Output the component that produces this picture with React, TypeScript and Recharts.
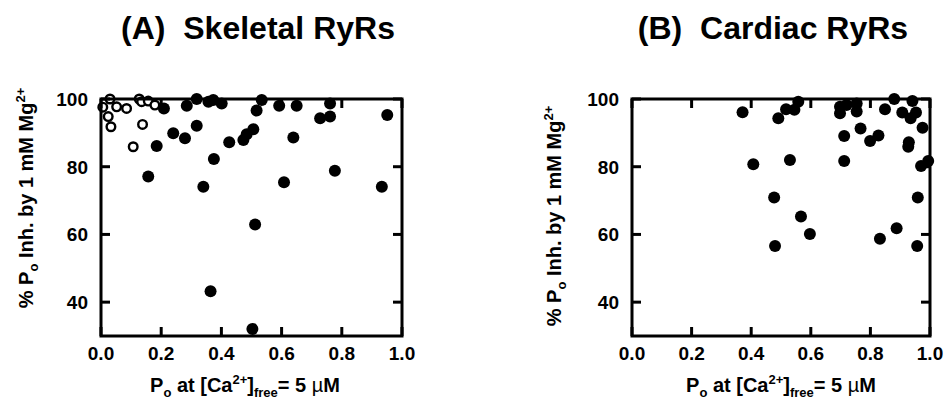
import React from 'react';
import { ScatterChart, Scatter, XAxis, YAxis } from 'recharts';

const xTicks = [0, 0.2, 0.4, 0.6, 0.8, 1.0];
const yTicks = [40, 60, 80, 100];
const xDomain = [0, 1];
const yDomain = [30, 100];

// Panel A, skeletal RyRs: filled circles [Po at 5 uM Ca, % Po inhibition]
const skeletalFilled: [number, number][] = [
  [0.209, 97.2], [0.285, 98.0], [0.318, 100], [0.357, 99.2], [0.373, 99.7], [0.401, 98.7],
  [0.24, 89.9], [0.279, 88.4], [0.318, 92.1], [0.185, 86.1], [0.157, 77.1], [0.34, 74.1],
  [0.375, 82.3], [0.426, 87.2], [0.473, 87.9], [0.484, 89.6], [0.506, 91.1], [0.512, 62.9],
  [0.364, 43.2], [0.503, 32.1], [0.534, 99.7], [0.517, 96.6], [0.592, 98.0], [0.65, 98.0],
  [0.728, 94.3], [0.761, 94.8], [0.761, 98.7], [0.639, 88.6], [0.951, 95.3], [0.777, 78.8],
  [0.608, 75.4], [0.933, 74.1],
];

// Panel A, skeletal RyRs: open circles
const skeletalOpen: [number, number][] = [
  [0.03, 100], [0.006, 97.6], [0.024, 94.8], [0.033, 91.8], [0.052, 97.7], [0.085, 97.2],
  [0.127, 100], [0.135, 99.2], [0.157, 99.4], [0.179, 98.2], [0.138, 92.5], [0.107, 85.9],
];

// Panel B, cardiac RyRs: filled circles
const cardiac: [number, number][] = [
  [0.371, 96.1], [0.407, 80.7], [0.491, 94.3], [0.517, 97.0], [0.545, 96.8], [0.558, 99.2],
  [0.53, 82.0], [0.477, 70.9], [0.48, 56.6], [0.567, 65.3], [0.597, 60.1], [0.698, 97.7],
  [0.698, 95.8], [0.72, 98.2], [0.754, 98.7], [0.754, 96.3], [0.712, 89.1], [0.712, 81.7],
  [0.767, 91.3], [0.799, 87.6], [0.827, 89.2], [0.849, 97.0], [0.88, 100], [0.907, 96.0],
  [0.941, 99.4], [0.953, 96.0], [0.935, 94.3], [0.975, 91.5], [0.929, 87.2], [0.927, 85.9],
  [0.97, 80.2], [0.994, 81.7], [0.959, 70.9], [0.957, 56.6], [0.888, 61.8], [0.832, 58.7],
];

const toPoints = (arr: [number, number][]) => arr.map(([x, y]) => ({ x, y }));

const FONT = '"Liberation Sans", Arial, Helvetica, sans-serif';
const CHART_W = 473;
const CHART_H = 408;
const PLOT_TOP = 99;
const PLOT_BOTTOM = 336;
const X_AXIS_H = CHART_H - PLOT_BOTTOM;
const TICK_LEN = 9;
const TICK_W = 3;
const BOTTOM_GAP = 11;
const LEFT_GAP = 13;

const labelProps = { fill: '#000', fontSize: 19, fontWeight: 700, fontFamily: FONT };

const BottomTick = (p: any) => (
  <text x={Number(p.x)} y={Number(p.y)} dy="0.71em" textAnchor="middle" {...labelProps}>
    {Number(p.payload.value).toFixed(1)}
  </text>
);

const LeftTick = (p: any) => (
  <text x={Number(p.x)} y={Number(p.y)} dy="0.36em" textAnchor="end" {...labelProps}>
    {p.payload.value}
  </text>
);

const FilledDot = (p: any) => <circle cx={p.cx} cy={p.cy} r={6} fill="#000" />;
const OpenDot = (p: any) => (
  <circle cx={p.cx} cy={p.cy} r={4.3} fill="#fff" stroke="#000" strokeWidth={2.4} />
);

type SeriesDef = { name: string; data: [number, number][]; open?: boolean };

function Panel({ left, yAxisWidth, marginRight, series }: { left: number; yAxisWidth: number; marginRight: number; series: SeriesDef[] }) {
  return (
    <div style={{ position: 'absolute', left, top: 0 }}>
      <ScatterChart width={CHART_W} height={CHART_H} margin={{ top: PLOT_TOP, right: marginRight, bottom: 0, left: 0 }}>
        <XAxis
          type="number" dataKey="x" domain={xDomain} ticks={xTicks} interval={0}
          height={X_AXIS_H} tickSize={0} tickMargin={BOTTOM_GAP}
          axisLine={false} tickLine={false} tick={BottomTick}
        />
        <YAxis
          type="number" dataKey="y" domain={yDomain} ticks={yTicks} interval={0}
          width={yAxisWidth} tickSize={0} tickMargin={LEFT_GAP}
          axisLine={false} tickLine={false} tick={LeftTick}
        />
        {series.map((s) => (
          <Scatter
            key={s.name} name={s.name} data={toPoints(s.data)}
            shape={s.open ? OpenDot : FilledDot} isAnimationActive={false}
          />
        ))}
      </ScatterChart>
    </div>
  );
}

// Axis frame with mirrored inward ticks, laid out on the same plot box as the chart above
function Frame({ plotLeft, plotRight }: { plotLeft: number; plotRight: number }) {
  const w = plotRight - plotLeft;
  const h = PLOT_BOTTOM - PLOT_TOP;
  const sx = (v: number) => plotLeft + ((v - xDomain[0]) / (xDomain[1] - xDomain[0])) * w;
  const sy = (v: number) => PLOT_BOTTOM - ((v - yDomain[0]) / (yDomain[1] - yDomain[0])) * h;
  return (
    <g stroke="#000" strokeWidth={TICK_W} fill="none">
      <rect x={plotLeft} y={PLOT_TOP} width={w} height={h} strokeLinejoin="miter" />
      {xTicks.map((t) => (
        <g key={`x${t}`}>
          <line x1={sx(t)} x2={sx(t)} y1={PLOT_BOTTOM} y2={PLOT_BOTTOM - TICK_LEN} />
          <line x1={sx(t)} x2={sx(t)} y1={PLOT_TOP} y2={PLOT_TOP + TICK_LEN} />
        </g>
      ))}
      {yTicks.map((t) => (
        <g key={`y${t}`}>
          <line x1={plotLeft} x2={plotLeft + TICK_LEN} y1={sy(t)} y2={sy(t)} />
          <line x1={plotRight} x2={plotRight - TICK_LEN} y1={sy(t)} y2={sy(t)} />
        </g>
      ))}
    </g>
  );
}

const SUB = 13;

function XTitle({ x }: { x: number }) {
  return (
    <text x={x} y={392} textAnchor="middle" fontFamily={FONT} fontWeight={700} fontSize={20} fill="#000">
      <tspan>P</tspan>
      <tspan dy={5} fontSize={SUB}>o</tspan>
      <tspan dy={-5}> at [Ca</tspan>
      <tspan dy={-8} fontSize={SUB}>2+</tspan>
      <tspan dy={8}>]</tspan>
      <tspan dy={5} fontSize={SUB}>free</tspan>
      <tspan dy={-5}>= 5 </tspan>
      <tspan fontWeight={400}>µ</tspan>
      <tspan>M</tspan>
    </text>
  );
}

function YTitle({ x, y }: { x: number; y: number }) {
  return (
    <text x={x} y={y} transform={`rotate(-90 ${x} ${y})`} textAnchor="middle" fontFamily={FONT} fontWeight={700} fontSize={20} fill="#000">
      <tspan>% P</tspan>
      <tspan dy={5} fontSize={SUB}>o</tspan>
      <tspan dy={-5}> Inh. by 1 mM Mg</tspan>
      <tspan dy={-8} fontSize={SUB}>2+</tspan>
    </text>
  );
}

const A_LEFT = 0;
const A_YAXIS_W = 101;
const A_MARGIN_R = 71;
const B_LEFT = 473;
const B_YAXIS_W = 159;
const B_MARGIN_R = 16;

export default function App() {
  return (
    <div style={{ position: 'absolute', left: 0, top: 0, width: 946, height: 408, background: '#fff', overflow: 'hidden' }}>
      <Panel
        left={A_LEFT} yAxisWidth={A_YAXIS_W} marginRight={A_MARGIN_R}
        series={[
          { name: 'Skeletal (filled)', data: skeletalFilled },
          { name: 'Skeletal (open)', data: skeletalOpen, open: true },
        ]}
      />
      <Panel left={B_LEFT} yAxisWidth={B_YAXIS_W} marginRight={B_MARGIN_R} series={[{ name: 'Cardiac', data: cardiac }]} />
      <svg width={946} height={408} style={{ position: 'absolute', left: 0, top: 0, pointerEvents: 'none' }}>
        <Frame plotLeft={A_LEFT + A_YAXIS_W} plotRight={A_LEFT + CHART_W - A_MARGIN_R} />
        <Frame plotLeft={B_LEFT + B_YAXIS_W} plotRight={B_LEFT + CHART_W - B_MARGIN_R} />
        <text x={258} y={39} textAnchor="middle" fontFamily={FONT} fontWeight={700} fontSize={32} fill="#000" style={{ whiteSpace: 'pre' }}>
          {'(A)  Skeletal RyRs'}
        </text>
        <text x={773} y={39} textAnchor="middle" fontFamily={FONT} fontWeight={700} fontSize={32} fill="#000" style={{ whiteSpace: 'pre' }}>
          {'(B)  Cardiac RyRs'}
        </text>
        <XTitle x={245} />
        <XTitle x={781} />
        <YTitle x={33} y={198} />
        <YTitle x={561} y={216} />
      </svg>
    </div>
  );
}
